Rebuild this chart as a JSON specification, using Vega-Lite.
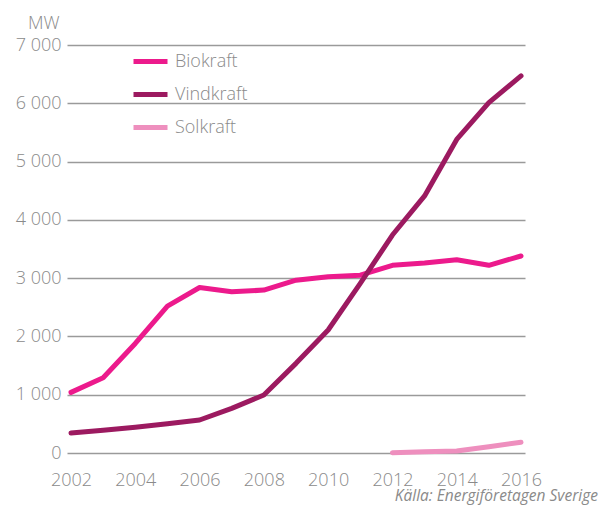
{
  "$schema": "https://vega.github.io/schema/vega-lite/v6.json",
  "width": 458,
  "height": 408,
  "autosize": {"type": "none"},
  "padding": {"left": 67, "top": 45, "right": 74, "bottom": 52},
  "background": "white",
  "config": {
    "view": {"stroke": null},
    "font": "Open Sans"
  },
  "title": {
    "text": "Källa: Energiföretagen Sverige",
    "orient": "bottom",
    "anchor": "end",
    "frame": "group",
    "dx": 73,
    "offset": 0,
    "font": "Open Sans",
    "fontSize": 15.5,
    "fontStyle": "italic",
    "fontWeight": 400,
    "color": "#8a8a8a"
  },
  "data": {
    "values": [
      {"year": 2002, "serie": "Biokraft", "value": 1040},
      {"year": 2003, "serie": "Biokraft", "value": 1290},
      {"year": 2004, "serie": "Biokraft", "value": 1880},
      {"year": 2005, "serie": "Biokraft", "value": 2520},
      {"year": 2006, "serie": "Biokraft", "value": 2840},
      {"year": 2007, "serie": "Biokraft", "value": 2765},
      {"year": 2008, "serie": "Biokraft", "value": 2795},
      {"year": 2009, "serie": "Biokraft", "value": 2965},
      {"year": 2010, "serie": "Biokraft", "value": 3025},
      {"year": 2011, "serie": "Biokraft", "value": 3050},
      {"year": 2012, "serie": "Biokraft", "value": 3220},
      {"year": 2013, "serie": "Biokraft", "value": 3260},
      {"year": 2014, "serie": "Biokraft", "value": 3315},
      {"year": 2015, "serie": "Biokraft", "value": 3220},
      {"year": 2016, "serie": "Biokraft", "value": 3380},
      {"year": 2002, "serie": "Vindkraft", "value": 343},
      {"year": 2003, "serie": "Vindkraft", "value": 390},
      {"year": 2004, "serie": "Vindkraft", "value": 440},
      {"year": 2005, "serie": "Vindkraft", "value": 500},
      {"year": 2006, "serie": "Vindkraft", "value": 566},
      {"year": 2007, "serie": "Vindkraft", "value": 766},
      {"year": 2008, "serie": "Vindkraft", "value": 995},
      {"year": 2009, "serie": "Vindkraft", "value": 1538},
      {"year": 2010, "serie": "Vindkraft", "value": 2110},
      {"year": 2011, "serie": "Vindkraft", "value": 2910},
      {"year": 2012, "serie": "Vindkraft", "value": 3740},
      {"year": 2013, "serie": "Vindkraft", "value": 4410},
      {"year": 2014, "serie": "Vindkraft", "value": 5380},
      {"year": 2015, "serie": "Vindkraft", "value": 6010},
      {"year": 2016, "serie": "Vindkraft", "value": 6470},
      {"year": 2012, "serie": "Solkraft", "value": 5},
      {"year": 2013, "serie": "Solkraft", "value": 22},
      {"year": 2014, "serie": "Solkraft", "value": 34},
      {"year": 2015, "serie": "Solkraft", "value": 108},
      {"year": 2016, "serie": "Solkraft", "value": 183}
    ]
  },
  "mark": {"type": "line", "strokeWidth": 5, "strokeCap": "round", "strokeJoin": "round"},
  "encoding": {
    "x": {
      "field": "year",
      "type": "quantitative",
      "scale": {"domain": [2002, 2016], "padding": 4, "nice": false, "zero": false},
      "axis": {
        "values": [2002, 2004, 2006, 2008, 2010, 2012, 2014, 2016],
        "format": "d",
        "title": null,
        "grid": false,
        "ticks": false,
        "domain": false,
        "labelPadding": 18,
        "labelFont": "Open Sans",
        "labelFontSize": 18,
        "labelFontWeight": 300,
        "labelColor": "#8a8a8a",
        "labelFlush": false
      }
    },
    "y": {
      "field": "value",
      "type": "quantitative",
      "scale": {"domain": [0, 7000], "nice": false},
      "axis": {
        "values": [0, 1000, 2000, 3000, 4000, 5000, 6000, 7000],
        "labelExpr": "replace(format(datum.value, ',d'), ',', ' ')",
        "title": "MW",
        "titleAngle": 0,
        "titleAlign": "right",
        "titleBaseline": "alphabetic",
        "titleX": -8,
        "titleY": -17,
        "titleFont": "Open Sans",
        "titleFontSize": 18,
        "titleFontWeight": 300,
        "titleColor": "#8a8a8a",
        "grid": true,
        "gridColor": "#9a9a9a",
        "gridWidth": 1.5,
        "ticks": false,
        "domain": false,
        "labelPadding": 6,
        "labelFont": "Open Sans",
        "labelFontSize": 18,
        "labelFontWeight": 300,
        "labelColor": "#8a8a8a"
      }
    },
    "color": {
      "field": "serie",
      "type": "nominal",
      "scale": {
        "domain": ["Biokraft", "Vindkraft", "Solkraft"],
        "range": ["#ec1a8c", "#9c1a60", "#ee8fbe"]
      },
      "legend": {
        "title": null,
        "orient": "none",
        "legendX": 64,
        "legendY": -3,
        "padding": 0,
        "symbolType": "stroke",
        "symbolSize": 1156,
        "symbolStrokeWidth": 5,
        "labelOffset": 5,
        "rowPadding": 3,
        "labelFont": "Open Sans",
        "labelFontSize": 18,
        "labelFontWeight": 300,
        "labelColor": "#8a8a8a"
      }
    }
  }
}
